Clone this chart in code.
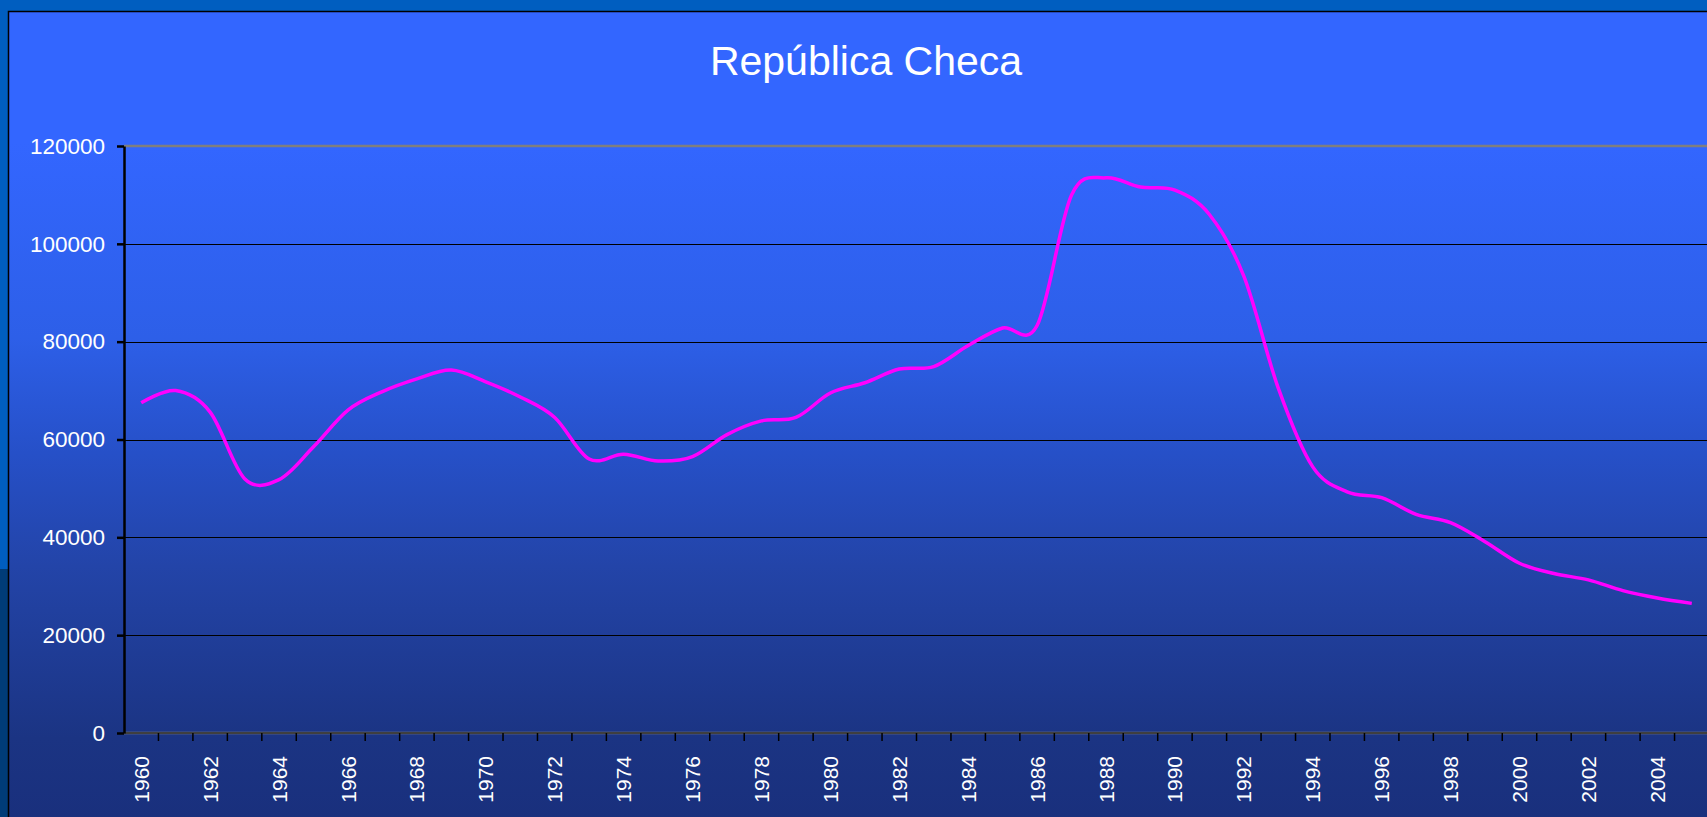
<!DOCTYPE html>
<html lang="en">
  <head>
    <meta charset="utf-8" />
    <title>República Checa</title>
    <script src="https://d3js.org/d3.v7.min.js"></script>
    <style type="text/css">
      body {
        margin: 0;
        background: #005ec0;
        overflow: hidden;
      }
      svg {
        display: block;
      }
      text {
        font-family: "Liberation Sans", Arial, sans-serif;
        fill: #ffffff;
      }
    </style>
  </head>
  <body>
    <script type="text/javascript">
      const title = "República Checa";

      const years = [
        "1960", "1961", "1962", "1963", "1964", "1965", "1966", "1967", "1968", "1969",
        "1970", "1971", "1972", "1973", "1974", "1975", "1976", "1977", "1978", "1979",
        "1980", "1981", "1982", "1983", "1984", "1985", "1986", "1987", "1988", "1989",
        "1990", "1991", "1992", "1993", "1994", "1995", "1996", "1997", "1998", "1999",
        "2000", "2001", "2002", "2003", "2004", "2005",
      ];

      const values = [
        67500, 70000, 65600, 52000, 51800, 58500, 66000, 69800, 72400, 74200,
        71800, 68700, 64500, 56000, 57000, 55600, 56500, 61000, 63800, 64500,
        69500, 71600, 74400, 74900, 79200, 82800, 83300, 110000, 113500, 111600,
        111000, 106000, 93400, 70500, 54400, 49300, 48100, 44700, 43000, 39100,
        34700, 32600, 31300, 29100, 27600, 26500,
      ];

      const yTicks = [0, 20000, 40000, 60000, 80000, 100000, 120000];

      const xLabels = [
        "1960", "1962", "1964", "1966", "1968", "1970", "1972", "1974", "1976", "1978",
        "1980", "1982", "1984", "1986", "1988", "1990", "1992", "1994", "1996", "1998",
        "2000", "2002", "2004",
      ];

      //Width and height
      const w = 1707;
      const h = 817;
      const plotLeft = 124;
      const plotRight = 1709;
      const plotTop = 146;
      const plotBottom = 733;

      const xScale = d3
        .scaleBand()
        .domain(years)
        .range([plotLeft, plotRight])
        .padding(0);

      const yScale = d3
        .scaleLinear()
        .domain([0, 120000])
        .range([plotBottom, plotTop]);

      const xCenter = function (d) {
        return xScale(d) + xScale.bandwidth() / 2;
      };

      //Create SVG element
      const svg = d3
        .select("body")
        .append("svg")
        .attr("width", w)
        .attr("height", h);

      const defs = svg.append("defs");

      const grad = defs
        .append("linearGradient")
        .attr("id", "bg")
        .attr("x1", 0)
        .attr("y1", 0)
        .attr("x2", 0)
        .attr("y2", 1);
      [
        [0, "#3366ff"],
        [0.16, "#3366ff"],
        [0.4, "#2d5fe8"],
        [0.54, "#2650c8"],
        [0.68, "#2344a8"],
        [0.89, "#1b3483"],
        [1, "#192f7c"],
      ].forEach(function (s) {
        grad.append("stop").attr("offset", s[0]).attr("stop-color", s[1]);
      });

      // page strips around the chart box
      svg.append("rect").attr("x", 0).attr("y", 0).attr("width", w).attr("height", h).attr("fill", "#005ec0");
      svg.append("rect").attr("x", 0).attr("y", 569).attr("width", 8).attr("height", h - 569).attr("fill", "#003c78");

      // chart box
      svg
        .append("rect")
        .attr("x", 8.5)
        .attr("y", 11.5)
        .attr("width", w)
        .attr("height", h)
        .attr("fill", "url(#bg)")
        .attr("stroke", "#000")
        .attr("stroke-width", 1.5);

      //Title
      svg
        .append("text")
        .attr("x", 866)
        .attr("y", 75)
        .attr("text-anchor", "middle")
        .style("font-size", "41px")
        .text(title);

      //Gridlines
      svg
        .selectAll("line.grid")
        .data(yTicks.filter(function (d) { return d > 0 && d < 120000; }))
        .enter()
        .append("line")
        .attr("class", "grid")
        .attr("x1", plotLeft)
        .attr("x2", w)
        .attr("y1", function (d) { return Math.round(yScale(d)) + 0.5; })
        .attr("y2", function (d) { return Math.round(yScale(d)) + 0.5; })
        .attr("stroke", "#000")
        .attr("stroke-width", 1);

      // plot area top & bottom border
      [120000, 0].forEach(function (v) {
        svg
          .append("line")
          .attr("x1", plotLeft)
          .attr("x2", w)
          .attr("y1", yScale(v))
          .attr("y2", yScale(v))
          .attr("stroke", "#7f7f7f")
          .attr("stroke-width", 2.5);
      });
      svg
        .append("line")
        .attr("x1", plotLeft)
        .attr("x2", w)
        .attr("y1", yScale(0))
        .attr("y2", yScale(0))
        .attr("stroke", "#2a2a2a")
        .attr("stroke-width", 1.5);

      //Y axis
      const yAxis = d3
        .axisLeft(yScale)
        .tickValues(yTicks)
        .tickSize(7)
        .tickSizeOuter(0)
        .tickPadding(12)
        .tickFormat(d3.format("d"));

      const yG = svg
        .append("g")
        .attr("transform", "translate(" + plotLeft + ",0)")
        .call(yAxis);
      yG.select(".domain").attr("stroke", "#000").attr("stroke-width", 2.5);
      yG.selectAll(".tick line").attr("stroke", "#000").attr("stroke-width", 2.5);
      yG.selectAll(".tick text")
        .attr("fill", "#fff")
        .style("font-size", "22.5px")
        .style("font-family", '"Liberation Sans", Arial, sans-serif');

      //X ticks between categories
      svg
        .selectAll("line.xtick")
        .data(years.slice(1))
        .enter()
        .append("line")
        .attr("class", "xtick")
        .attr("x1", function (d) { return xScale(d); })
        .attr("x2", function (d) { return xScale(d); })
        .attr("y1", plotBottom)
        .attr("y2", plotBottom + 8)
        .attr("stroke", "#000")
        .attr("stroke-width", 1.5);

      //X labels
      svg
        .selectAll("text.xlabel")
        .data(xLabels)
        .enter()
        .append("text")
        .attr("class", "xlabel")
        .attr("transform", function (d) {
          return "translate(" + xCenter(d) + "," + 756 + ") rotate(-90)";
        })
        .attr("text-anchor", "end")
        .attr("dy", "0.36em")
        .style("font-size", "21px")
        .text(function (d) { return d; });

      //Line
      const line = d3
        .line()
        .x(function (d, i) { return xCenter(years[i]); })
        .y(function (d) { return yScale(d); })
        .curve(d3.curveCatmullRom.alpha(0));

      svg
        .append("path")
        .datum(values)
        .attr("d", line)
        .attr("fill", "none")
        .attr("stroke", "#ff00ff")
        .attr("stroke-width", 3.5)
        .attr("stroke-linejoin", "round");
    </script>
  </body>
</html>
